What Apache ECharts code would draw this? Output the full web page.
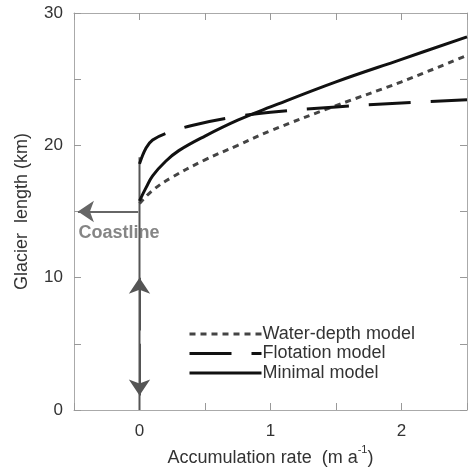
<!DOCTYPE html>
<html>
<head>
<meta charset="UTF-8">
<script src="https://cdn.jsdelivr.net/npm/echarts@6/dist/echarts.min.js"></script>
</head>
<body style="margin:0;background:#fff">
<div id="chart" style="width:472px;height:472px"></div>
<script>
    // values (x = accumulation rate, y = length in km)
    var waterDepth = [[0, 15.6], [0.1, 16.6], [0.25, 17.6], [0.5, 18.9], [0.75, 20.0], [1, 21.1], [1.5, 23.0], [2, 24.8], [2.5, 26.8]];
    var flotation = [[0, 18.6], [0.05, 19.8], [0.1, 20.4], [0.2, 20.9], [0.4, 21.5], [0.7, 22.1], [1, 22.5], [1.5, 22.9], [2, 23.2], [2.5, 23.45]];
    var minimal = [[0, 15.8], [0.05, 16.8], [0.1, 17.7], [0.2, 18.8], [0.3, 19.6], [0.5, 20.7], [0.75, 21.9], [1, 22.9], [1.5, 24.8], [2, 26.5], [2.5, 28.2]];
    var divide = [[0, 0], [0, 19.1]];
    var coastY = 15;
    var seriesNames = ['Water-depth model', 'Flotation model', 'Minimal model'];

    var font = 'Liberation Sans, Arial, sans-serif';
    var axisGray = '#aaa';

    var chart = echarts.init(document.getElementById('chart'));
    var baseAxis = {
        axisLine: {onZero: false, lineStyle: {color: axisGray, width: 1}},
        axisTick: {inside: true, length: 7, lineStyle: {color: '#999'}},
        splitLine: {show: false}
    };
    var option = {
        animation: false,
        grid: {left: 74, right: 5, top: 13, bottom: 62},
        legend: {
            orient: 'vertical', left: 183, top: 320, itemGap: 1.5,
            itemWidth: 72, itemHeight: 14,
            data: seriesNames,
            itemStyle: {opacity: 0},
            lineStyle: {width: 3},
            textStyle: {fontFamily: font, fontSize: 18, lineHeight: 16, color: '#333', padding: [0, 0, 0, -4]}
        },
        xAxis: [
            Object.assign({
                type: 'value', min: -0.5, max: 2.5, interval: 0.5,
                name: '{n|Accumulation rate  (m a}{sup|-1}{n|)}',
                nameLocation: 'middle', nameGap: 33,
                nameTextStyle: {
                    fontFamily: font, fontSize: 18, color: '#333',
                    rich: {
                        n: {fontFamily: font, fontSize: 18, color: '#333', lineHeight: 22, verticalAlign: 'bottom'},
                        sup: {fontFamily: font, fontSize: 11, color: '#333', lineHeight: 10, verticalAlign: 'top'}
                    }
                },
                axisLabel: {
                    margin: 13, fontFamily: font, fontSize: 17, color: '#333',
                    formatter: function (v) { return (v >= 0 && v % 1 === 0) ? String(v) : ''; }
                }
            }, baseAxis),
            Object.assign({
                type: 'value', min: -0.5, max: 2.5, interval: 0.5, position: 'top',
                axisLabel: {show: false}
            }, baseAxis)
        ],
        yAxis: [
            Object.assign({
                type: 'value', min: 0, max: 30, interval: 5,
                name: 'Glacier  length (km)',
                nameLocation: 'middle', nameGap: 43,
                nameTextStyle: {fontFamily: font, fontSize: 18, color: '#333'},
                axisLabel: {
                    margin: 11, fontFamily: font, fontSize: 17, color: '#333',
                    formatter: function (v) { return v % 10 === 0 ? String(v) : ''; }
                }
            }, baseAxis),
            Object.assign({
                type: 'value', min: 0, max: 30, interval: 5, position: 'right',
                axisLabel: {show: false}
            }, baseAxis)
        ],
        series: [
            {
                name: seriesNames[0], type: 'line', data: waterDepth, smooth: 0.4,
                symbol: 'none', z: 3,
                lineStyle: {color: '#444', width: 3, type: [6, 5]}
            },
            {
                name: seriesNames[1], type: 'line', data: flotation, smooth: 0.4,
                symbol: 'none', z: 3,
                lineStyle: {color: '#111', width: 3, type: [42, 20]}
            },
            {
                name: seriesNames[2], type: 'line', data: minimal, smooth: 0.4,
                symbol: 'none', z: 3,
                lineStyle: {color: '#111', width: 3}
            },
            {
                type: 'line', data: divide, symbol: 'none', silent: true, z: 2,
                lineStyle: {color: '#555', width: 2}
            },
            {
                type: 'lines', coordinateSystem: 'cartesian2d', silent: true, z: 2,
                symbol: ['none', 'arrow'], symbolSize: [12, 16],
                lineStyle: {color: '#555', width: 2, opacity: 1},
                data: [
                    {coords: [[0, 6], [0, 10]]},
                    {coords: [[0, 5], [0, 1.1]]}
                ]
            },
            {
                type: 'lines', coordinateSystem: 'cartesian2d', silent: true, z: 2,
                symbol: ['none', 'arrow'], symbolSize: [12, 16],
                lineStyle: {color: '#666', width: 2, opacity: 1},
                data: [{coords: [[-0.01, coastY], [-0.47, coastY]]}]
            },
            {
                type: 'scatter', data: [[-0.465, 13.4]], symbolSize: 0, silent: true,
                label: {
                    show: true, position: 'right', distance: 0,
                    formatter: 'Coastline',
                    fontFamily: font, fontSize: 18, fontWeight: 'bold', color: '#666'
                }
            }
        ]
    };
    chart.setOption(option);
</script>
</body>
</html>
